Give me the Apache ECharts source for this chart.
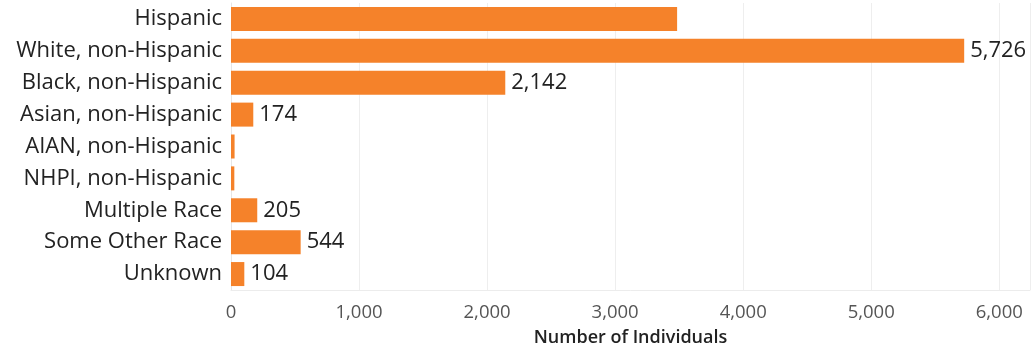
<!DOCTYPE html>
<html><head><meta charset="utf-8">
<script src="https://cdn.jsdelivr.net/npm/echarts@6/dist/echarts.min.js"></script>
<style>html,body{margin:0;padding:0;background:#fff}#c{width:1035px;height:348px}</style>
</head><body><div id="c"></div>
<script>
const categories = ["Hispanic","White, non-Hispanic","Black, non-Hispanic","Asian, non-Hispanic","AIAN, non-Hispanic","NHPI, non-Hispanic","Multiple Race","Some Other Race","Unknown"];
const values = [3484, 5726, 2142, 174, 28, 26, 205, 544, 104];
const showLabel = [false, true, true, true, false, false, true, true, true];
const xTicks = [0, 1000, 2000, 3000, 4000, 5000, 6000];
const axisTitle = "Number of Individuals";

const font = "'Open Sans', 'Noto Sans', sans-serif";
const chart = echarts.init(document.getElementById('c'), null, {renderer:'canvas'});
chart.setOption({
  animation:false,
  grid:{left:231, right:5, top:3, bottom:58, containLabel:false, outerBoundsMode:'none'},
  xAxis:{
    type:'value', min:0, max:6240, interval:1000,
    axisLine:{show:true, lineStyle:{color:'#ececec'}},
    axisTick:{show:false},
    splitLine:{show:true, lineStyle:{color:'#eeeeee', width:1}},
    axisLabel:{color:'#555', fontSize:18.5, fontFamily:font, margin:13,
      formatter:v => xTicks.includes(v) ? v.toLocaleString('en-US') : ''},
    name:axisTitle, nameLocation:'middle', nameGap:39,
    nameTextStyle:{color:'#222', fontSize:18, fontWeight:600, fontFamily:font}
  },
  yAxis:{
    type:'category', data:categories, inverse:true,
    axisLine:{show:true, lineStyle:{color:'#e6e6e6'}},
    axisTick:{show:false},
    axisLabel:{color:'#222', fontSize:22, fontFamily:font, margin:9}
  },
  series:[{
    type:'bar', barWidth:24,
    data: values.map((v,i)=>({value:v, label:{show:showLabel[i]}})),
    itemStyle:{color:'#F5822A'},
    label:{position:'right', distance:6, color:'#222', fontSize:22, fontFamily:font,
      formatter:p => p.value.toLocaleString('en-US')}
  }]
});
</script></body></html>
